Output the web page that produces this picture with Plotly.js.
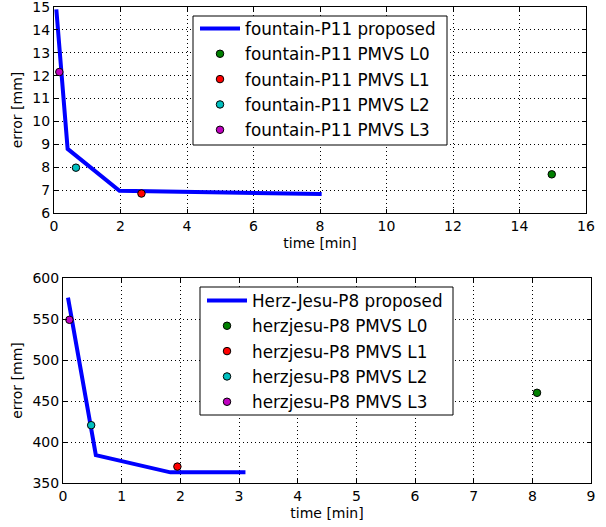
<!DOCTYPE html>
<html>
<head>
<meta charset="utf-8">
<script src="https://cdn.plot.ly/plotly-3.0.1.min.js"></script>
<style>html,body{margin:0;padding:0;background:#fff;}#chart{width:606px;height:527px;}</style>
</head>
<body>
<div id="chart"></div>
<script>
// Top panel: fountain-P11
const fountainProposedTime = [0.07, 0.41, 1.97, 8.05];
const fountainProposedError = [14.9, 8.8, 6.97, 6.83];
const fountainPmvsLabels = ["fountain-P11 PMVS L0", "fountain-P11 PMVS L1", "fountain-P11 PMVS L2", "fountain-P11 PMVS L3"];
const fountainPmvsTime = [14.97, 2.63, 0.66, 0.16];
const fountainPmvsError = [7.69, 6.85, 7.98, 12.16];

// Bottom panel: Herz-Jesu-P8
const herzProposedTime = [0.085, 0.56, 1.83, 3.11];
const herzProposedError = [576, 384, 363, 363];
const herzPmvsLabels = ["herzjesu-P8 PMVS L0", "herzjesu-P8 PMVS L1", "herzjesu-P8 PMVS L2", "herzjesu-P8 PMVS L3"];
const herzPmvsTime = [8.08, 1.95, 0.48, 0.11];
const herzPmvsError = [460, 370, 420.5, 549];

const pmvsColors = ["#008000", "#ff0000", "#00bfbf", "#bf00bf"];
const FONT = "DejaVu Sans, sans-serif";

const traces = [];
traces.push({x: fountainProposedTime, y: fountainProposedError, mode: "lines", name: "fountain-P11 proposed",
  line: {color: "#0000ff", width: 4}, xaxis: "x", yaxis: "y", legend: "legend", legendgroup: "a0"});
for (let i = 0; i < 4; i++) {
  traces.push({x: [fountainPmvsTime[i]], y: [fountainPmvsError[i]], mode: "markers", name: fountainPmvsLabels[i],
    marker: {color: pmvsColors[i], size: 7.5, line: {color: "#000", width: 1}}, xaxis: "x", yaxis: "y",
    legend: "legend", legendgroup: "a" + (i + 1)});
}
traces.push({x: herzProposedTime, y: herzProposedError, mode: "lines", name: "Herz-Jesu-P8 proposed",
  line: {color: "#0000ff", width: 4}, xaxis: "x2", yaxis: "y2", legend: "legend2", legendgroup: "b0"});
for (let i = 0; i < 4; i++) {
  traces.push({x: [herzPmvsTime[i]], y: [herzPmvsError[i]], mode: "markers", name: herzPmvsLabels[i],
    marker: {color: pmvsColors[i], size: 7.5, line: {color: "#000", width: 1}}, xaxis: "x2", yaxis: "y2",
    legend: "legend2", legendgroup: "b" + (i + 1)});
}

const W = 606, H = 527;
function axis(extra) {
  return Object.assign({
    showline: true, mirror: "ticks", linecolor: "#000", linewidth: 1,
    ticks: "inside", ticklen: 4, tickcolor: "#000", tickwidth: 1,
    showgrid: true, gridcolor: "#000", griddash: "1px,3px", gridwidth: 1,
    zeroline: false, tickfont: {family: FONT, size: 14, color: "#000"},
    ticklabeloverflow: "allow", fixedrange: true
  }, extra);
}
const legendStyle = {
  xref: "paper", yref: "paper", xanchor: "left", yanchor: "top",
  bgcolor: "rgba(0,0,0,0)", borderwidth: 0, itemwidth: 40,
  font: {family: FONT, size: 16.8, color: "#000"}, tracegroupgap: 0.5, traceorder: "grouped"
};
const titleFont = {family: FONT, size: 14, color: "#000"};

function box(x0, x1, y0, y1) {
  return {type: "rect", xref: "paper", yref: "paper", layer: "above",
    x0: x0 / W, x1: x1 / W, y0: 1 - y1 / H, y1: 1 - y0 / H,
    fillcolor: "#fff", line: {color: "#000", width: 1}};
}

const layout = {
  width: W, height: H, margin: {l: 0, r: 0, t: 0, b: 0},
  paper_bgcolor: "#fff", plot_bgcolor: "#fff", showlegend: true,
  xaxis: axis({domain: [54 / W, 586 / W], range: [0, 16], dtick: 2, anchor: "y",
    title: {text: "time [min]", font: titleFont, standoff: 5}}),
  yaxis: axis({domain: [1 - 213 / H, 1 - 7 / H], range: [6, 15], dtick: 1, anchor: "x",
    title: {text: "error [mm]", font: titleFont, standoff: 6}}),
  xaxis2: axis({domain: [63 / W, 591 / W], range: [0, 9], dtick: 1, anchor: "y2",
    title: {text: "time [min]", font: titleFont, standoff: 5}}),
  yaxis2: axis({domain: [1 - 483 / H, 1 - 278 / H], range: [350, 600], dtick: 50, anchor: "x2",
    title: {text: "error [mm]", font: titleFont, standoff: 6}}),
  shapes: [box(193, 447, 16, 145), box(200, 453, 287, 415)],
  legend: Object.assign({x: 195 / W, y: 1 - 11 / H}, legendStyle),
  legend2: Object.assign({x: 202 / W, y: 1 - 283 / H}, legendStyle)
};

Plotly.newPlot("chart", traces, layout, {displayModeBar: false, staticPlot: true});
</script>
</body>
</html>
